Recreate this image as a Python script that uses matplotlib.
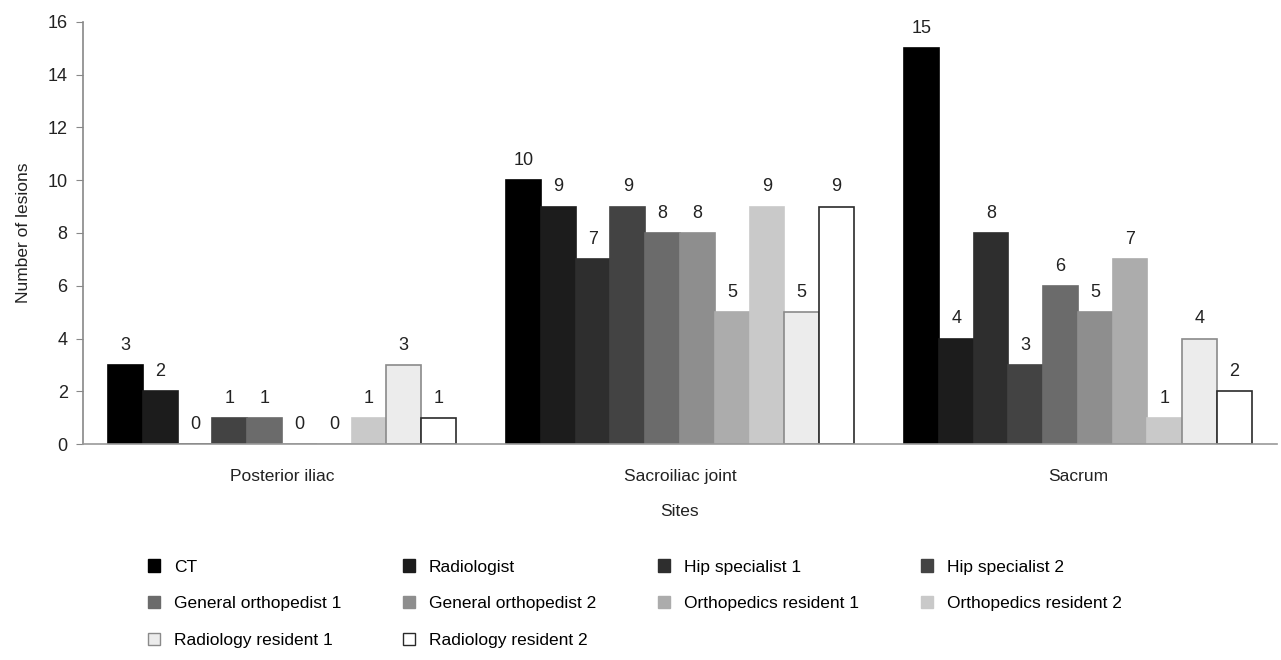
import numpy as np
import matplotlib.pyplot as plt
from matplotlib.patches import Patch

plt.rcParams['font.family'] = ['Liberation Sans', 'DejaVu Sans']

# 数据
sites = ['Posterior iliac', 'Sacroiliac joint', 'Sacrum']
readers = ['CT', 'Radiologist', 'Hip specialist 1', 'Hip specialist 2',
           'General orthopedist 1', 'General orthopedist 2',
           'Orthopedics resident 1', 'Orthopedics resident 2',
           'Radiology resident 1', 'Radiology resident 2']
posterior_iliac = [3, 2, 0, 1, 1, 0, 0, 1, 3, 1]
sacroiliac_joint = [10, 9, 7, 9, 8, 8, 5, 9, 5, 9]
sacrum = [15, 4, 8, 3, 6, 5, 7, 1, 4, 2]
yticks = [0, 2, 4, 6, 8, 10, 12, 14, 16]

# 样式
fills = ['#000000', '#1c1c1c', '#2e2e2e', '#434343', '#6b6b6b',
         '#8e8e8e', '#acacac', '#c9c9c9', '#ececec', '#ffffff']
edges = ['#000000', '#1c1c1c', '#2e2e2e', '#434343', '#6b6b6b',
         '#8e8e8e', '#acacac', '#c9c9c9', '#8a8a8a', '#2a2a2a']

values = np.array([posterior_iliac, sacroiliac_joint, sacrum])  # [site, reader]

fig = plt.figure(figsize=(12.81, 6.6), dpi=100)
ax = fig.add_axes([0.0648, 0.327, 0.932, 0.640])

x = np.arange(len(sites))
n = len(readers)
bw = 0.874 / n
for i in range(n):
    pos = x - 0.437 + bw * (i + 0.5)
    ax.bar(pos, values[:, i], width=bw, color=fills[i], edgecolor=edges[i],
           linewidth=1.2)
    for px, v in zip(pos, values[:, i]):
        ax.annotate(str(v), (px, v), xytext=(0, 8), textcoords='offset points',
                    ha='center', va='bottom', fontsize=13, color='#222222')

ax.set_xlim(-0.5, 2.5)
ax.set_ylim(0, 16)
ax.set_yticks(yticks)
ax.set_xticks(x)
ax.set_xticklabels(sites, fontsize=12.5, color='#222222')
ax.tick_params(axis='x', length=0, pad=18)
ax.tick_params(axis='y', labelsize=13, colors='#222222', length=5,
               color='#888888', pad=6)
for s in ['top', 'right']:
    ax.spines[s].set_visible(False)
ax.spines['left'].set_color('#888888')
ax.spines['bottom'].set_color('#999999')
ax.spines['left'].set_linewidth(1.2)
ax.spines['bottom'].set_linewidth(1.2)

ax.set_ylabel('Number of lesions', fontsize=12.5, color='#222222', labelpad=12)
ax.set_xlabel('Sites', fontsize=12.5, color='#222222', labelpad=14)

# 图例 (按行排列)
handles = [Patch(facecolor=fills[i], edgecolor=edges[i], label=readers[i])
           for i in range(n)]
order = [0, 4, 8, 1, 5, 9, 2, 6, 3, 7]
fig.legend([handles[i] for i in order], [readers[i] for i in order],
           ncol=4, loc='upper left', bbox_to_anchor=(0.110, 0.163),
           frameon=False, fontsize=12.5, handlelength=0.7, handleheight=0.7,
           handletextpad=0.8, columnspacing=3.55, labelspacing=1.25,
           borderaxespad=0)

fig.savefig('out.png', dpi=100)
